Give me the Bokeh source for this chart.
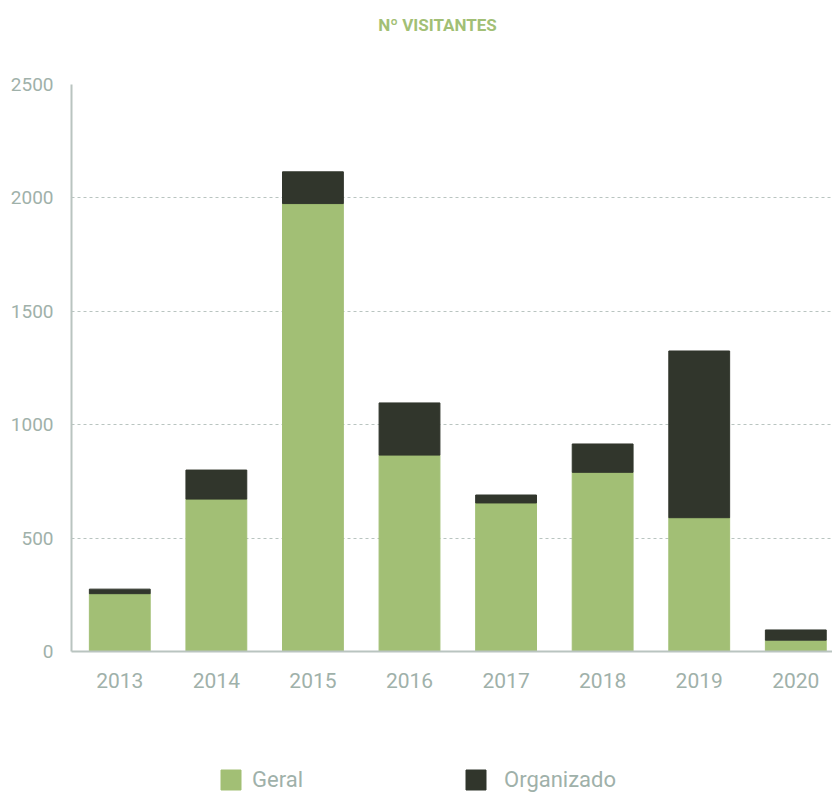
from bokeh.plotting import figure
from bokeh.models import ColumnDataSource, FixedTicker, Legend, LegendItem, Label
from bokeh.layouts import column
from bokeh.embed import file_html
from bokeh.resources import INLINE

years = ["2013", "2014", "2015", "2016", "2017", "2018", "2019", "2020"]
geral = [255, 672, 1975, 866, 655, 790, 590, 50]
organizado = [20, 128, 140, 230, 35, 125, 735, 45]
series = ["Geral", "Organizado"]
colors = ["#a2bf75", "#31362c"]
title_text = "Nº VISITANTES"

x = list(range(len(years)))
top_geral = geral
top_org = [g + o for g, o in zip(geral, organizado)]
src = ColumnDataSource(dict(x=x, geral=geral, top_geral=top_geral, top_org=top_org))

AX = "#b9c4c0"
LBL = "#9fb1aa"
FONT = "Roboto"

# title strip
p0 = figure(width=832, height=74, output_backend="svg", toolbar_location=None,
            x_range=(0, 1), y_range=(0, 1), min_border=0, title=None)
p0.axis.visible = False
p0.grid.visible = False
p0.outline_line_color = None
p0.add_layout(Label(x=366, y=50, x_units="screen", y_units="screen", text=title_text,
                    text_align="center", text_baseline="middle", text_color=colors[0],
                    text_font=FONT, text_font_size="17px", text_font_style="bold"))

p = figure(width=832, height=666, output_backend="svg", toolbar_location=None,
           x_range=(-0.5, 7.38), y_range=(0, 2500), title=None,
           min_border_left=71, min_border_right=0, min_border_top=10, min_border_bottom=89)

r1 = p.vbar(x="x", bottom=0, top="top_geral", width=0.63, color=colors[0], source=src)
r2 = p.vbar(x="x", bottom="top_geral", top="top_org", width=0.63, color=colors[1], source=src)

p.xaxis.ticker = FixedTicker(ticks=x)
p.xaxis.major_label_overrides = {i: y for i, y in enumerate(years)}
p.yaxis.ticker = FixedTicker(ticks=[0, 500, 1000, 1500, 2000, 2500])

for ax in (p.xaxis, p.yaxis):
    ax.axis_line_color = AX
    ax.axis_line_width = 2
    ax.major_tick_line_color = None
    ax.minor_tick_line_color = None
    ax.major_label_text_color = LBL
    ax.major_label_text_font = FONT
p.xaxis.major_label_text_font_size = "21px"
p.yaxis.major_label_text_font_size = "19px"
p.xaxis.major_label_standoff = 15
p.yaxis.major_label_standoff = 12

p.xgrid.grid_line_color = None
p.ygrid.grid_line_color = AX
p.ygrid.grid_line_dash = "3 3"
p.ygrid.grid_line_width = 1
p.outline_line_color = None

# legend strip
p2 = figure(width=832, height=52, output_backend="svg", toolbar_location=None,
            x_range=(0, 1), y_range=(0, 1), min_border=0, title=None)
p2.axis.visible = False
p2.grid.visible = False
p2.outline_line_color = None
g1 = p2.vbar(x=[-10], top=[-10], bottom=[-11], width=0.1, color=colors[0])
g2 = p2.vbar(x=[-10], top=[-10], bottom=[-11], width=0.1, color=colors[1])
common = dict(orientation="horizontal", glyph_width=25, glyph_height=25,
              padding=0, margin=0, border_line_color=None, background_fill_alpha=0,
              label_text_color=LBL, label_text_font=FONT, label_text_font_size="22px",
              label_height=25)
leg1 = Legend(items=[LegendItem(label=series[0], renderers=[g1])],
              location=(147, 0), label_standoff=9, **common)
leg2 = Legend(items=[LegendItem(label=series[1], renderers=[g2])],
              location=(392, 0), label_standoff=16, **common)
p2.add_layout(leg1, "center")
p2.add_layout(leg2, "center")

open("out.html", "w").write(file_html(column(p0, p, p2, spacing=0), INLINE))
